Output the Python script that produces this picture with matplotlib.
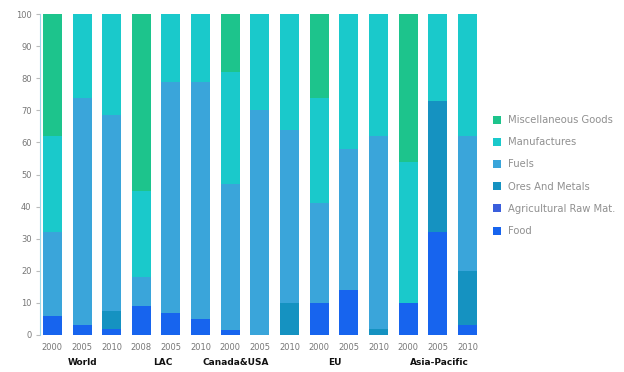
import numpy as np
import matplotlib.pyplot as plt

# bars: region x year
years = ['2000', '2005', '2010', '2008', '2005', '2010', '2000', '2005', '2010',
         '2000', '2005', '2010', '2000', '2005', '2010']
groups = ['World', 'LAC', 'Canada&USA', 'EU', 'Asia-Pacific']
group_pos = [1.03, 3.73, 6.17, 9.54, 13.06]

food = [6, 3, 2, 9, 7, 5, 1.5, 0, 0, 10, 14, 0, 10, 32, 3]
agri = [0, 0, 0, 0, 0, 0, 0, 0, 0, 0, 0, 0, 0, 0, 0]
ores = [0, 0, 5.5, 0, 0, 0, 0, 0, 10, 0, 0, 2, 0, 41, 17]
fuels = [26, 71, 61, 9, 72, 74, 45.5, 70, 54, 31, 44, 60, 0, 0, 42]
manuf = [30, 26, 31.5, 27, 21, 21, 35, 30, 36, 33, 42, 38, 44, 27, 38]
misc = [38, 0, 0, 55, 0, 0, 18, 0, 0, 26, 0, 0, 46, 0, 0]

series = [('Food', food, '#1764ee'),
          ('Agricultural Raw Mat.', agri, '#3a5edc'),
          ('Ores And Metals', ores, '#1592c1'),
          ('Fuels', fuels, '#3aa5da'),
          ('Manufactures', manuf, '#1ac9cb'),
          ('Miscellaneous Goods', misc, '#1dc48c')]

fig = plt.figure(figsize=(6.24, 3.72), dpi=100)
ax = fig.add_axes([0.064, 0.0995, 0.705, 0.8625])

x = np.arange(len(years))
bottom = np.zeros(len(years))
handles = []
for name, vals, color in series:
    vals = np.array(vals, dtype=float)
    b = ax.bar(x, vals, bottom=bottom, width=0.64, color=color, label=name)
    handles.append(b)
    bottom += vals

ax.set_xlim(-0.42, 14.42)
ax.set_ylim(0, 100)
ax.set_yticks(range(0, 101, 10))
ax.tick_params(axis='y', labelsize=6, labelcolor='#777777', length=3, color='#bbbbbb', pad=3)
ax.set_xticks(x)
ax.set_xticklabels(years)
ax.tick_params(axis='x', labelsize=6, labelcolor='#777777', length=0, pad=6)
for s in ['top', 'right', 'bottom']:
    ax.spines[s].set_visible(False)
ax.spines['left'].set_color('#9ed8e8')
ax.spines['left'].set_linewidth(0.8)

for name, pos in zip(groups, group_pos):
    ax.text(pos, -0.085, name, transform=ax.get_xaxis_transform(), ha='center', va='center',
            fontsize=6.5, fontweight='bold', color='#111111')

leg = fig.legend(handles[::-1], [s[0] for s in series][::-1], loc='upper left',
                 bbox_to_anchor=(0.775, 0.715), frameon=False, fontsize=7.2,
                 handlelength=0.85, handleheight=0.85, labelspacing=1.22, handletextpad=0.7)
for t in leg.get_texts():
    t.set_color('#909090')

fig.savefig('out.png', dpi=100)
